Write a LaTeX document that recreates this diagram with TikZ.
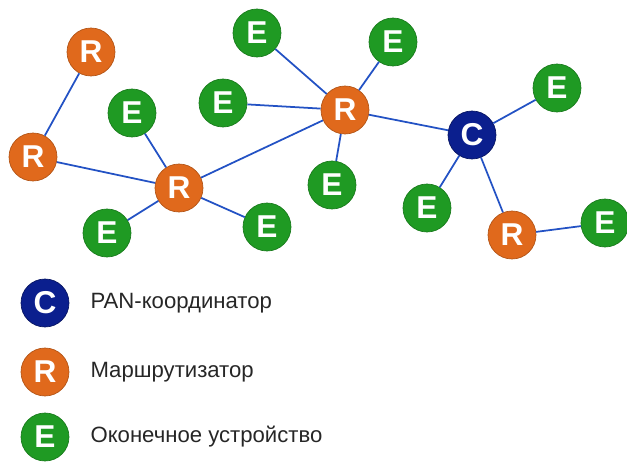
\documentclass[tikz,border=0pt]{standalone}
\usepackage{fontspec}
\setmainfont{Liberation Sans}
\usepackage{xcolor}
\definecolor{colorCoord}{HTML}{0B1F8E}
\definecolor{colorRouter}{HTML}{E0691C}
\definecolor{colorEnd}{HTML}{1F9A23}
\definecolor{colorLink}{HTML}{2352C4}
\usetikzlibrary{positioning}
\tikzset{
  dev/.style={circle, minimum size=0.96cm, inner sep=0pt, text=white,
    font=\fontsize{18}{18}\selectfont\bfseries},
  coord/.style={dev, fill=colorCoord, draw=colorCoord!70!black},
  router/.style={dev, fill=colorRouter, draw=colorRouter!80!black},
  enddev/.style={dev, fill=colorEnd, draw=colorEnd!80!black},
  link/.style={colorLink, line width=1pt},
  legend/.style={font=\fontsize{12.6}{14}\selectfont, text=black!85}
}

\begin{document}
\begin{tikzpicture}[x=0.02cm, y=-0.02cm]
\useasboundingbox (0,0) rectangle (627,463);
% routers and coordinator
\node[router] (r1) at (91,52) {R};
\node[router] (r2) at (33,157) {R};
\node[router] (r3) at (179,188) {R};
\node[router] (r4) at (345,110) {R};
\node[coord] (c) at (472,135) {C};
\node[router] (r5) at (512,235) {R};
% end devices
\node[enddev] (e1) at (132,113) {E};
\node[enddev] (e2) at (107,233) {E};
\node[enddev] (e3) at (267,227) {E};
\node[enddev] (e4) at (223,103) {E};
\node[enddev] (e5) at (257,33) {E};
\node[enddev] (e6) at (393,42) {E};
\node[enddev] (e7) at (332,185) {E};
\node[enddev] (e8) at (557,88) {E};
\node[enddev] (e9) at (427,208) {E};
\node[enddev] (e10) at (605,223) {E};
% links
\draw[link] (r1) -- (r2);
\draw[link] (r2) -- (r3);
\draw[link] (e1) -- (r3);
\draw[link] (r3) -- (e2);
\draw[link] (r3) -- (e3);
\draw[link] (r3) -- (r4);
\draw[link] (r4) -- (e4);
\draw[link] (r4) -- (e5);
\draw[link] (r4) -- (e6);
\draw[link] (r4) -- (e7);
\draw[link] (r4) -- (c);
\draw[link] (c) -- (e8);
\draw[link] (c) -- (e9);
\draw[link] (c) -- (r5);
\draw[link] (r5) -- (e10);
% legend
\node[coord] (lc) at (45,303) {C};
\node[router] (lr) at (45,372) {R};
\node[enddev] (le) at (45,437) {E};
\node[legend, right=0.3cm of lc] (tc) {PAN-координатор};
\node[legend, right=0.3cm of lr] (tr) {Маршрутизатор};
\node[legend, right=0.3cm of le] (te) {Оконечное устройство};
\end{tikzpicture}
\end{document}
